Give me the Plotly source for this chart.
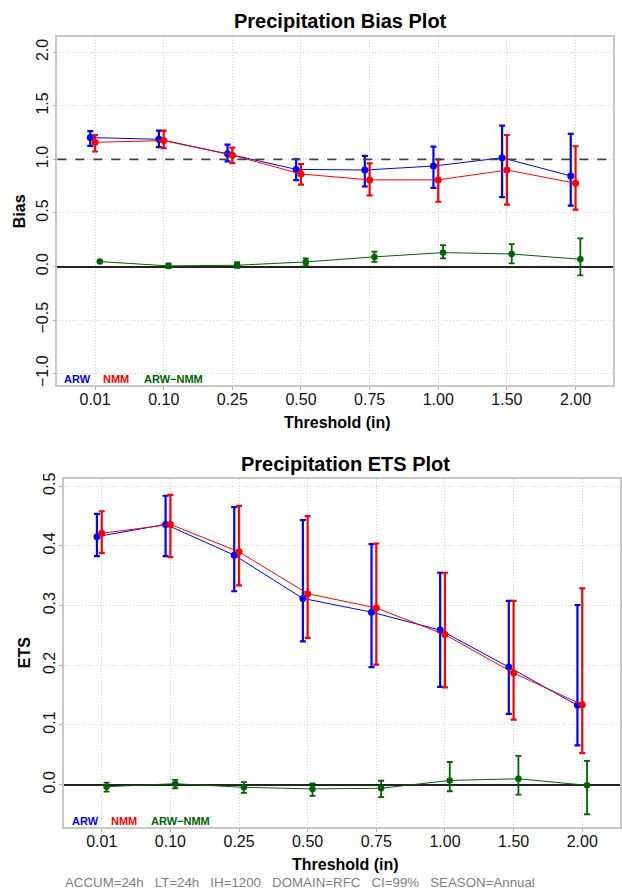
import numpy as np
import plotly.graph_objects as go

W, H = 622, 894

thresholds = ["0.01", "0.10", "0.25", "0.50", "0.75", "1.00", "1.50", "2.00"]

# Bias panel
bias_arw = [1.204, 1.188, 1.052, 0.907, 0.901, 0.938, 1.015, 0.846]
bias_arw_lo = [1.127, 1.114, 0.981, 0.806, 0.747, 0.735, 0.648, 0.568]
bias_arw_hi = [1.265, 1.268, 1.139, 1.003, 1.034, 1.120, 1.315, 1.238]
bias_nmm = [1.160, 1.176, 1.040, 0.864, 0.809, 0.809, 0.901, 0.778]
bias_nmm_lo = [1.074, 1.105, 0.966, 0.765, 0.664, 0.605, 0.577, 0.531]
bias_nmm_hi = [1.228, 1.268, 1.111, 0.957, 0.963, 1.000, 1.228, 1.123]
bias_diff = [0.046, 0.006, 0.012, 0.043, 0.090, 0.130, 0.117, 0.068]
bias_diff_lo = [0.042, -0.015, -0.012, 0.009, 0.043, 0.077, 0.030, -0.083]
bias_diff_hi = [0.050, 0.030, 0.040, 0.077, 0.139, 0.200, 0.210, 0.262]

# ETS panel
ets_arw = [0.4155, 0.436, 0.3845, 0.312, 0.289, 0.259, 0.197, 0.133]
ets_arw_lo = [0.383, 0.383, 0.324, 0.240, 0.197, 0.164, 0.1186, 0.066]
ets_arw_hi = [0.4536, 0.484, 0.465, 0.443, 0.403, 0.355, 0.308, 0.301]
ets_nmm = [0.421, 0.436, 0.390, 0.320, 0.296, 0.2514, 0.187, 0.134]
ets_nmm_lo = [0.388, 0.381, 0.334, 0.246, 0.201, 0.163, 0.109, 0.0527]
ets_nmm_hi = [0.458, 0.4856, 0.467, 0.450, 0.404, 0.355, 0.308, 0.329]
ets_diff = [-0.0033, 0.0016, -0.0044, -0.0071, -0.0060, 0.0071, 0.0099, -0.0011]
ets_diff_lo = [-0.0115, -0.0060, -0.0137, -0.0187, -0.0209, -0.0110, -0.0165, -0.0495]
ets_diff_hi = [0.0033, 0.0080, 0.0044, 0.0022, 0.0066, 0.0380, 0.0484, 0.0400]

bias_ticks = [-1.0, -0.5, 0.0, 0.5, 1.0, 1.5, 2.0]
ets_ticks = [0.0, 0.1, 0.2, 0.3, 0.4, 0.5]
bias_ref = 1.0

series_names = ["ARW", "NMM", "ARW\u2212NMM"]
colors = ["#0000ff", "#ff0000", "#006400"]
offsets = [-0.07, 0.0, 0.07]

FONT = "Liberation Sans, Arial, sans-serif"
pos = np.arange(1, len(thresholds) + 1)


def px(x):
    return x / W


def py(y):
    return 1 - y / H


fig = go.Figure()


def add_series(vals, lo, hi, color, off, xa, ya, msize, thick):
    v = np.array(vals)
    fig.add_trace(go.Scatter(
        x=pos + off, y=v, mode="lines+markers", xaxis=xa, yaxis=ya,
        line=dict(color=color, width=1),
        marker=dict(color=color, size=msize),
        error_y=dict(type="data", symmetric=False,
                     array=np.array(hi) - v, arrayminus=v - np.array(lo),
                     color=color, thickness=thick, width=3),
        showlegend=False, hoverinfo="skip"))


panels = [
    ("x", "y", [(bias_arw, bias_arw_lo, bias_arw_hi),
                (bias_nmm, bias_nmm_lo, bias_nmm_hi),
                (bias_diff, bias_diff_lo, bias_diff_hi)]),
    ("x2", "y2", [(ets_arw, ets_arw_lo, ets_arw_hi),
                  (ets_nmm, ets_nmm_lo, ets_nmm_hi),
                  (ets_diff, ets_diff_lo, ets_diff_hi)]),
]
for xa, ya, sers in panels:
    for i, (v, lo, hi) in enumerate(sers):
        add_series(v, lo, hi, colors[i], offsets[i], xa, ya,
                   7 if i < 2 else 6.5, 2.2 if i < 2 else 1.8)

axis_common = dict(
    showline=True, mirror=True, linecolor="#c8c8c8", linewidth=1.5,
    ticks="outside", ticklen=3, tickcolor="#b0b0b0", tickwidth=1,
    showgrid=True, gridcolor="#d4d4d4", gridwidth=1, griddash="1px,2px",
    tickfont=dict(family=FONT, size=16, color="#111111"),
)
xcommon = dict(axis_common, zeroline=False, ticklabelstandoff=-4)
ycommon = dict(axis_common, zeroline=True, zerolinecolor="#222222",
               zerolinewidth=1.6, ticklabelstandoff=-2)

fig.update_layout(
    width=W, height=H, autosize=False,
    margin=dict(l=0, r=0, t=0, b=0),
    paper_bgcolor="white", plot_bgcolor="white",
    xaxis=dict(domain=[px(57.3), px(613.3)], range=[0.45, 8.55], anchor="y",
               tickvals=list(pos), ticktext=thresholds, **xcommon),
    yaxis=dict(domain=[py(382.3), py(31.7)], range=[-1.105, 2.139], anchor="x",
               tickvals=bias_ticks, tickformat=".1f", tickangle=-90, **ycommon),
    xaxis2=dict(domain=[px(64), px(620)], range=[0.45, 8.55], anchor="y2",
                tickvals=list(pos), ticktext=thresholds, **xcommon),
    yaxis2=dict(domain=[py(828.3), py(477.3)], range=[-0.0707, 0.512], anchor="x2",
                tickvals=ets_ticks, tickformat=".1f", tickangle=-90, **ycommon),
)

# dashed reference line at bias = 1
fig.add_shape(type="line", xref="x domain", yref="y", x0=0, x1=1,
              y0=bias_ref, y1=bias_ref,
              line=dict(color="#444444", width=1.8, dash="dash"), layer="above")


def ann(text, x, y, size, color="#000000", bold=False, xanchor="center",
        angle=0):
    fig.add_annotation(
        text=f"<b>{text}</b>" if bold else text,
        x=px(x), y=py(y), xref="paper", yref="paper", showarrow=False,
        xanchor=xanchor, yanchor="middle", textangle=angle, borderpad=0,
        font=dict(family=FONT, size=size, color=color))


ann("Precipitation Bias Plot", 340, 15, 20, bold=True)
ann("Precipitation ETS Plot", 345.5, 462, 20, bold=True)
ann("Threshold (in)", 337.5, 420, 16, bold=True)
ann("Threshold (in)", 345, 866, 16, bold=True)
ann("Bias", 19, 207, 16, bold=True, angle=-90)
ann("ETS", 24, 653, 16, bold=True, angle=-90)

leg_x_top = [63, 102.3, 143]
leg_x_bot = [70.7, 109.7, 149.7]
for i, name in enumerate(series_names):
    ann(name, leg_x_top[i], 376, 11, color=colors[i], bold=True, xanchor="left")
    ann(name, leg_x_bot[i], 822.5, 11, color=colors[i], bold=True, xanchor="left")

footer = "ACCUM=24h   LT=24h   IH=1200   DOMAIN=RFC   CI=99%   SEASON=Annual"
ann(footer.replace(" ", "\u00a0"), 64, 884, 13.3, color="#808080", xanchor="left")

fig.write_html("out.html", config={"displayModeBar": False},
               post_script="document.body.style.margin='0';"
                           "document.body.style.overflow='hidden';")
